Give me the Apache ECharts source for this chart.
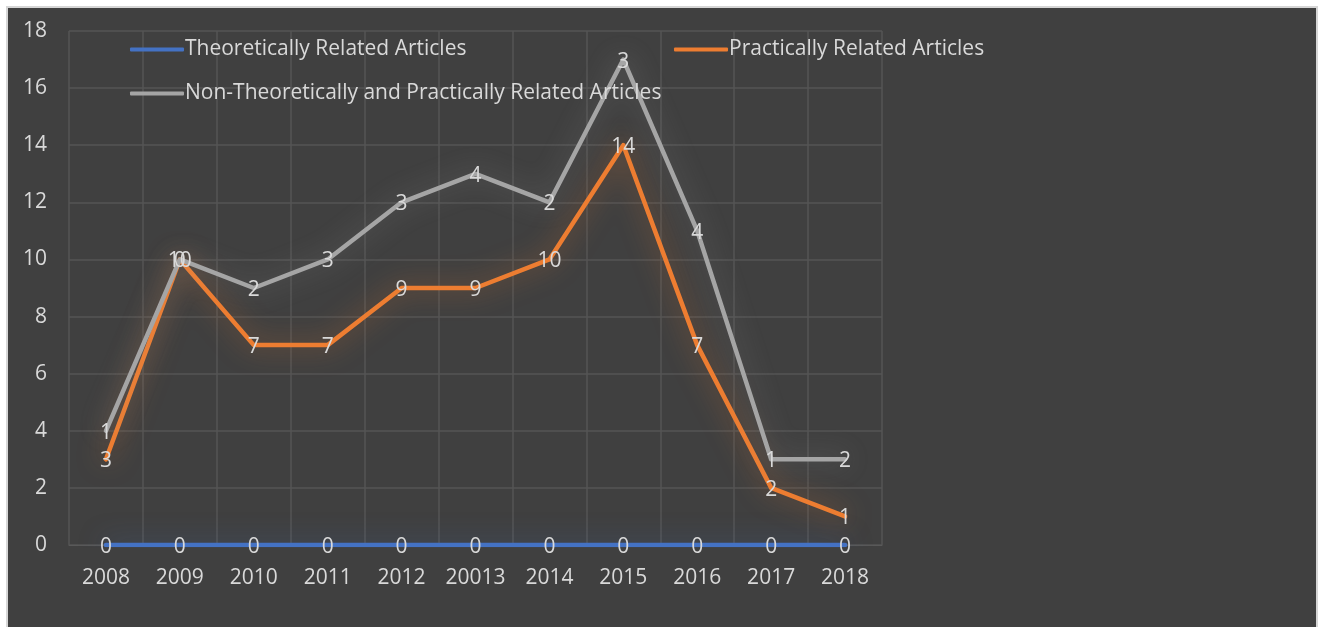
<!DOCTYPE html>
<html>
<head>
<meta charset="utf-8">
<script src="https://cdn.jsdelivr.net/npm/echarts@6/dist/echarts.min.js"></script>
<style>
  html, body { margin: 0; padding: 0; background: #ffffff; width: 1320px; height: 627px; overflow: hidden; }
  #chart { position: absolute; left: 6px; top: 6px; width: 1308px; height: 625px; border: 2px solid #d6d6d6; border-bottom: none; background: #404040; }
</style>
</head>
<body>
<div id="chart"></div>
<script>
const categories = ['2008', '2009', '2010', '2011', '2012', '20013', '2014', '2015', '2016', '2017', '2018'];
const theoreticalValues = [0, 0, 0, 0, 0, 0, 0, 0, 0, 0, 0];
const practicalValues = [3, 10, 7, 7, 9, 9, 10, 14, 7, 2, 1];
const nonTheoreticalValues = [1, 0, 2, 3, 3, 4, 2, 3, 4, 1, 2];
const seriesNames = ['Theoretically Related Articles', 'Practically Related Articles', 'Non-Theoretically and Practically Related Articles'];

const FONT = '"Open Sans", sans-serif';
const TXT = '#d9d9d9';

function mkSeries(name, data, color, glow) {
  return {
    name: name,
    type: 'line',
    stack: 'total',
    data: data,
    symbol: 'circle',
    symbolSize: 0,
    showSymbol: true,
    itemStyle: { color: color },
    lineStyle: { color: color, width: 4.5, shadowBlur: 26, shadowColor: glow, cap: 'round', join: 'round' },
    label: { show: true, position: 'inside', offset: [0, 2], color: TXT, fontSize: 21, fontFamily: FONT },
    emphasis: { disabled: true },
    animation: false
  };
}

const chart = echarts.init(document.getElementById('chart'), null, { renderer: 'canvas' });
const legendBase = {
  icon: 'roundRect', itemWidth: 54, itemHeight: 4, itemGap: 10,
  textStyle: { color: TXT, fontSize: 21, fontFamily: FONT, padding: [0, 0, 0, -4] },
  itemStyle: { opacity: 1 }
};
chart.setOption({
  backgroundColor: '#404040',
  animation: false,
  legend: [
    Object.assign({}, legendBase, { data: [seriesNames[0]], left: 117, top: 26 }),
    Object.assign({}, legendBase, { data: [seriesNames[1]], left: 661, top: 26 }),
    Object.assign({}, legendBase, { data: [seriesNames[2]], left: 117, top: 70 })
  ],
  grid: { left: 61, right: 434, top: 23, bottom: 88, containLabel: false },
  xAxis: {
    type: 'category',
    data: categories,
    boundaryGap: true,
    axisLine: { show: true, lineStyle: { color: '#595959', width: 1 } },
    axisTick: { show: false },
    splitLine: { show: true, interval: 0, lineStyle: { color: '#555555', width: 1.5 } },
    axisLabel: { color: TXT, fontSize: 21, fontFamily: FONT, margin: 23, interval: 0 }
  },
  yAxis: {
    type: 'value',
    min: 0, max: 18, interval: 2,
    axisLine: { show: false },
    axisTick: { show: false },
    splitLine: { show: true, lineStyle: { color: '#555555', width: 1.5 } },
    axisLabel: { color: TXT, fontSize: 21, fontFamily: FONT, margin: 22 }
  },
  series: [
    mkSeries(seriesNames[0], theoreticalValues, '#4472C4', 'rgba(68,114,196,0.55)'),
    mkSeries(seriesNames[1], practicalValues, '#ED7D31', 'rgba(237,125,49,0.6)'),
    mkSeries(seriesNames[2], nonTheoreticalValues, '#A5A5A5', 'rgba(165,165,165,0.45)')
  ]
});
</script>
</body>
</html>
